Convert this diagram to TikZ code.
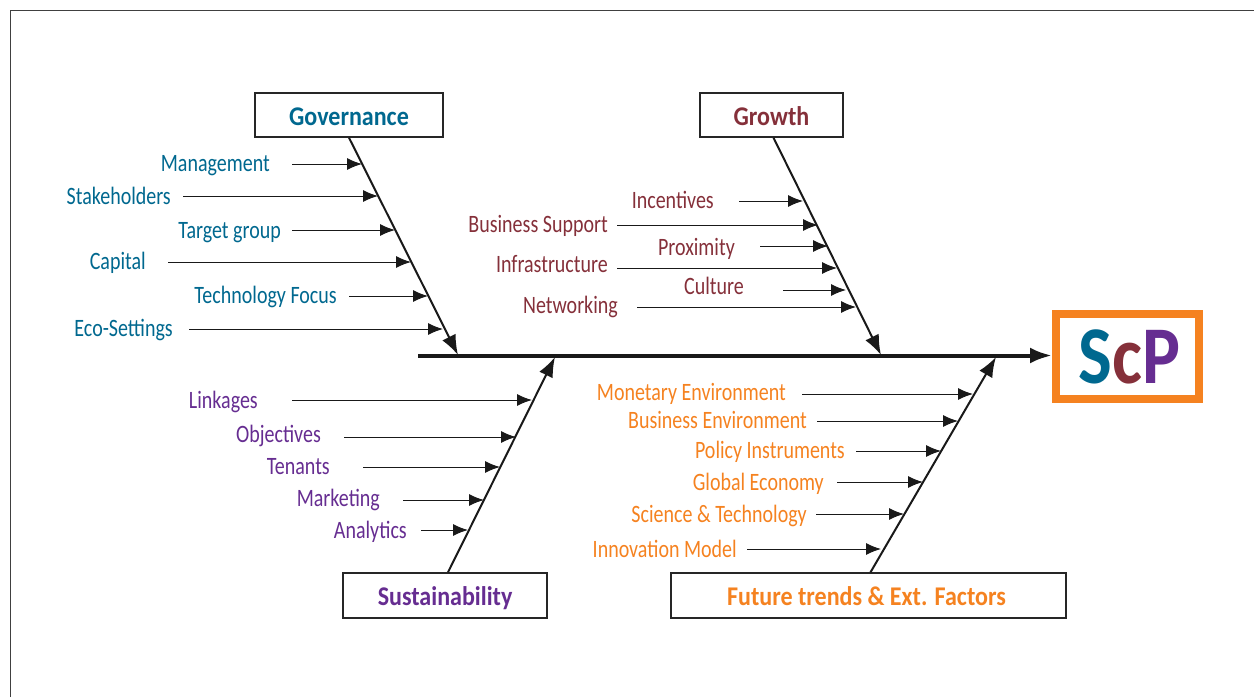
\documentclass[tikz,border=0pt]{standalone}
\usepackage{fontspec}
\setmainfont{Carlito}
\newfontfamily\itemfont[FakeStretch=0.8]{Carlito}
\newfontfamily\boxfont[FakeStretch=0.89]{Carlito}
\newfontfamily\logofont[FakeStretch=0.87]{Carlito}
\usetikzlibrary{arrows.meta}

\definecolor{govblue}{HTML}{00688F}
\definecolor{growthred}{HTML}{85303A}
\definecolor{sustpurple}{HTML}{662D91}
\definecolor{futorange}{HTML}{F58220}

\tikzset{
	causebox/.style={draw=black!85, line width=1.5pt, fill=white, inner sep=0pt, text height=22pt, text depth=2pt, font=\boxfont\fontsize{27}{27}\selectfont\bfseries},
	item/.style={anchor=east, inner sep=0pt, text height=18pt, text depth=2pt, font=\itemfont\fontsize{25}{25}\selectfont},
	twig/.style={draw=black!90, line width=1pt, -{Latex[length=15pt, width=12pt]}},
	bone/.style={draw=black!90, line width=2pt, -{Latex[length=20pt, width=15pt]}},
}

\begin{document}
\begin{tikzpicture}[x=1pt, y=-1pt]
	\useasboundingbox (0,0) rectangle (1254,697);
	\draw[black!75, line width=1pt] (10,697) -- (10,10) -- (1254,10);

	% result box and spine
	\node[draw=futorange, line width=8pt, minimum width=143pt, minimum height=85pt, inner sep=0pt, text height=53pt, text depth=0pt, font=\logofont\fontsize{82}{82}\selectfont\bfseries] (scp) at (1127.5,356.5) {\hspace*{4pt}\textcolor{govblue}{S}\textcolor{growthred}{c}\textcolor{sustpurple}{P}};
	\coordinate (spinestart) at (418,355.5);
	\draw[black!90, line width=4pt, -{Latex[length=22pt, width=16pt]}] (spinestart) -- (scp.west |- spinestart);

	% cause boxes
	\node[causebox, text=govblue, minimum width=188pt, minimum height=44pt] (governance) at (349,115) {Governance};
	\node[causebox, text=growthred, minimum width=143pt, minimum height=44pt] (growth) at (771.5,115) {Growth};
	\node[causebox, text=sustpurple, minimum width=204pt, minimum height=45pt] (sustainability) at (445,595.5) {Sustainability};
	\node[causebox, text=futorange, minimum width=395pt, minimum height=45pt] (future) at (868.5,595.5) {\hspace*{-4pt}Future trends \& Ext. Factors};

	% bones
	\coordinate (governancetip) at (458,355);
	\coordinate (growthtip) at (881,355);
	\coordinate (sustainabilitytip) at (555,357);
	\coordinate (futuretip) at (996,357);
	\draw[bone] (governance.south) -- (governancetip);
	\draw[bone] ([xshift=2pt]growth.south) -- (growthtip);
	\draw[bone] ([xshift=3pt]sustainability.north) -- (sustainabilitytip);
	\draw[bone] ([xshift=2pt]future.north) -- (futuretip);

	% governance
	\node[item, text=govblue] (management) at (270,163) {Management};
	\node[item, text=govblue] (stakeholders) at (171,196) {Stakeholders};
	\node[item, text=govblue] (target) at (281,230) {Target group};
	\node[item, text=govblue] (capital) at (146,261) {Capital};
	\node[item, text=govblue] (techfocus) at (337,295) {Technology Focus};
	\node[item, text=govblue] (ecosettings) at (173,328) {Eco-Settings};
	\coordinate (managementtip) at (362,164);
	\coordinate (stakeholderstip) at (378,196);
	\coordinate (targettip) at (395,230);
	\coordinate (capitaltip) at (411,262);
	\coordinate (techfocustip) at (428,296);
	\coordinate (ecosettingstip) at (443,329);
	\draw[twig, shorten <=22pt] (management.east |- managementtip) -- (managementtip);
	\draw[twig, shorten <=12pt] (stakeholders.east |- stakeholderstip) -- (stakeholderstip);
	\draw[twig, shorten <=11pt] (target.east |- targettip) -- (targettip);
	\draw[twig, shorten <=22pt] (capital.east |- capitaltip) -- (capitaltip);
	\draw[twig, shorten <=12pt] (techfocus.east |- techfocustip) -- (techfocustip);
	\draw[twig, shorten <=16pt] (ecosettings.east |- ecosettingstip) -- (ecosettingstip);

	% growth
	\node[item, text=growthred] (incentives) at (714,200) {Incentives};
	\node[item, text=growthred] (support) at (608,224) {Business Support};
	\node[item, text=growthred] (proximity) at (735,247) {Proximity};
	\node[item, text=growthred] (infrastructure) at (608,264) {Infrastructure};
	\node[item, text=growthred] (culture) at (744,286) {Culture};
	\node[item, text=growthred] (networking) at (618,305) {Networking};
	\coordinate (incentivestip) at (803,201);
	\coordinate (supporttip) at (818,225);
	\coordinate (proximitytip) at (828,246);
	\coordinate (infrastructuretip) at (837,268);
	\coordinate (culturetip) at (846,290);
	\coordinate (networkingtip) at (856,307);
	\draw[twig, shorten <=25pt] (incentives.east |- incentivestip) -- (incentivestip);
	\draw[twig, shorten <=9pt] (support.east |- supporttip) -- (supporttip);
	\draw[twig, shorten <=25pt] (proximity.east |- proximitytip) -- (proximitytip);
	\draw[twig, shorten <=9pt] (infrastructure.east |- infrastructuretip) -- (infrastructuretip);
	\draw[twig, shorten <=39pt] (culture.east |- culturetip) -- (culturetip);
	\draw[twig, shorten <=19pt] (networking.east |- networkingtip) -- (networkingtip);

	% sustainability
	\node[item, text=sustpurple] (linkages) at (258,400) {Linkages};
	\node[item, text=sustpurple] (objectives) at (321,434) {Objectives};
	\node[item, text=sustpurple] (tenants) at (330,466) {Tenants};
	\node[item, text=sustpurple] (marketing) at (380,498) {Marketing};
	\node[item, text=sustpurple] (analytics) at (407,530) {Analytics};
	\coordinate (linkagestip) at (532,400);
	\coordinate (objectivestip) at (516,437);
	\coordinate (tenantstip) at (500,467);
	\coordinate (marketingtip) at (484,500);
	\coordinate (analyticstip) at (468,530);
	\draw[twig, shorten <=34pt] (linkages.east |- linkagestip) -- (linkagestip);
	\draw[twig, shorten <=23pt] (objectives.east |- objectivestip) -- (objectivestip);
	\draw[twig, shorten <=33pt] (tenants.east |- tenantstip) -- (tenantstip);
	\draw[twig, shorten <=23pt] (marketing.east |- marketingtip) -- (marketingtip);
	\draw[twig, shorten <=14pt] (analytics.east |- analyticstip) -- (analyticstip);

	% future trends
	\node[item, text=futorange] (monetary) at (786,392) {Monetary Environment};
	\node[item, text=futorange] (business) at (807,420) {Business Environment};
	\node[item, text=futorange] (policy) at (845,450) {Policy Instruments};
	\node[item, text=futorange] (economy) at (824,482) {Global Economy};
	\node[item, text=futorange] (science) at (807,514) {Science \& Technology};
	\node[item, text=futorange] (innovation) at (737,549) {Innovation Model};
	\coordinate (monetarytip) at (973,394);
	\coordinate (businesstip) at (958,421);
	\coordinate (policytip) at (941,451);
	\coordinate (economytip) at (923,482);
	\coordinate (sciencetip) at (904,514);
	\coordinate (innovationtip) at (881,549);
	\draw[twig, shorten <=16pt] (monetary.east |- monetarytip) -- (monetarytip);
	\draw[twig, shorten <=10pt] (business.east |- businesstip) -- (businesstip);
	\draw[twig, shorten <=11pt] (policy.east |- policytip) -- (policytip);
	\draw[twig, shorten <=13pt] (economy.east |- economytip) -- (economytip);
	\draw[twig, shorten <=9pt] (science.east |- sciencetip) -- (sciencetip);
	\draw[twig, shorten <=10pt] (innovation.east |- innovationtip) -- (innovationtip);
\end{tikzpicture}
\end{document}
